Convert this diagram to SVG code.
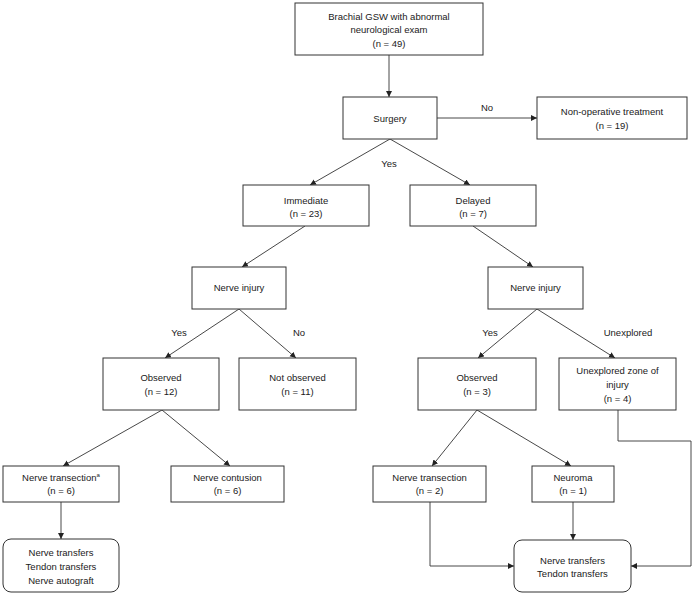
<svg xmlns="http://www.w3.org/2000/svg" width="696" height="595" viewBox="0 0 696 595">
<defs>
<marker id="ah" markerUnits="userSpaceOnUse" markerWidth="7" markerHeight="7" refX="6" refY="3" orient="auto">
<path d="M0,0 L6,3 L0,6 z" fill="#222"/>
</marker>
<style>
rect{fill:#fff;stroke:#333;stroke-width:1}
text{font-family:"Liberation Sans",Arial,sans-serif;font-size:9.5px;fill:#1a1a1a;text-anchor:middle}
.c line,.c polyline{stroke:#333;stroke-width:0.9;fill:none;marker-end:url(#ah)}
</style>
</defs>
<rect x="0" y="0" width="696" height="595" style="fill:#fff;stroke:none"/>
<g class="c" id="connectors">
<line x1="389" y1="55" x2="389" y2="97"/>
<line x1="437" y1="118" x2="537" y2="118"/>
<line x1="390" y1="139" x2="310" y2="185"/>
<line x1="390" y1="139" x2="470" y2="185"/>
<line x1="305" y1="226" x2="242" y2="267"/>
<line x1="473" y1="226" x2="533" y2="267"/>
<line x1="239" y1="309" x2="165" y2="358"/>
<line x1="239" y1="309" x2="296" y2="358"/>
<line x1="537" y1="309" x2="478" y2="358"/>
<line x1="537" y1="309" x2="615" y2="358"/>
<line x1="162" y1="410" x2="63" y2="466"/>
<line x1="162" y1="410" x2="230" y2="466"/>
<line x1="477" y1="410" x2="432" y2="466"/>
<line x1="477" y1="410" x2="571" y2="466"/>
<line x1="61" y1="502" x2="61" y2="539"/>
<polyline points="430,502 430,566 514,566"/>
<line x1="573" y1="502" x2="573" y2="540"/>
<polyline points="618,410 618,441 691,441 691,566 631,566"/>
<text x="487" y="111">No</text>
<text x="389" y="167">Yes</text>
<text x="179" y="336">Yes</text>
<text x="299" y="336">No</text>
<text x="490" y="336">Yes</text>
<text x="628" y="336">Unexplored</text>
</g>
<g id="n1"><rect x="295" y="3" width="188" height="52"/><text x="389" y="19.5">Brachial GSW with abnormal</text><text x="389" y="32.5">neurological exam</text><text x="389" y="46.5">(n = 49)</text></g>
<g id="n2"><rect x="343" y="97" width="94" height="42"/><text x="390" y="122">Surgery</text></g>
<g id="n3"><rect x="537" y="97" width="150" height="42"/><text x="612" y="115">Non-operative treatment</text><text x="612" y="129">(n = 19)</text></g>
<g id="n4"><rect x="243" y="185" width="126" height="41"/><text x="306" y="204">Immediate</text><text x="306" y="217">(n = 23)</text></g>
<g id="n5"><rect x="410" y="185" width="126" height="41"/><text x="473" y="204">Delayed</text><text x="473" y="217">(n = 7)</text></g>
<g id="n6"><rect x="192" y="267" width="94" height="42"/><text x="239" y="291">Nerve injury</text></g>
<g id="n7"><rect x="488" y="267" width="95" height="42"/><text x="535.5" y="291">Nerve injury</text></g>
<g id="n8"><rect x="103" y="358" width="116" height="52"/><text x="161" y="381">Observed</text><text x="161" y="395">(n = 12)</text></g>
<g id="n9"><rect x="239" y="358" width="117" height="52"/><text x="297.5" y="381">Not observed</text><text x="297.5" y="395">(n = 11)</text></g>
<g id="n10"><rect x="418" y="358" width="118" height="52"/><text x="477" y="381">Observed</text><text x="477" y="395">(n = 3)</text></g>
<g id="n11"><rect x="559" y="358" width="117" height="52"/><text x="617.5" y="374">Unexplored zone of</text><text x="617.5" y="387.5">injury</text><text x="617.5" y="402">(n = 4)</text></g>
<g id="n12"><rect x="3" y="466" width="116" height="36"/><text x="61" y="481">Nerve transection<tspan font-size="6" dy="-4">a</tspan></text><text x="61" y="494">(n = 6)</text></g>
<g id="n13"><rect x="171" y="466" width="113" height="36"/><text x="227.5" y="481">Nerve contusion</text><text x="227.5" y="494">(n = 6)</text></g>
<g id="n14"><rect x="373" y="466" width="113" height="36"/><text x="429.5" y="481">Nerve transection</text><text x="429.5" y="494">(n = 2)</text></g>
<g id="n15"><rect x="532" y="466" width="82" height="36"/><text x="573" y="481">Neuroma</text><text x="573" y="494">(n = 1)</text></g>
<g id="n16"><rect x="3" y="539" width="116" height="53" rx="8" ry="8"/><text x="61" y="556">Nerve transfers</text><text x="61" y="570">Tendon transfers</text><text x="61" y="584">Nerve autograft</text></g>
<g id="n17"><rect x="514" y="540" width="117" height="52" rx="8" ry="8"/><text x="572.5" y="564">Nerve transfers</text><text x="572.5" y="577">Tendon transfers</text></g>
</svg>
